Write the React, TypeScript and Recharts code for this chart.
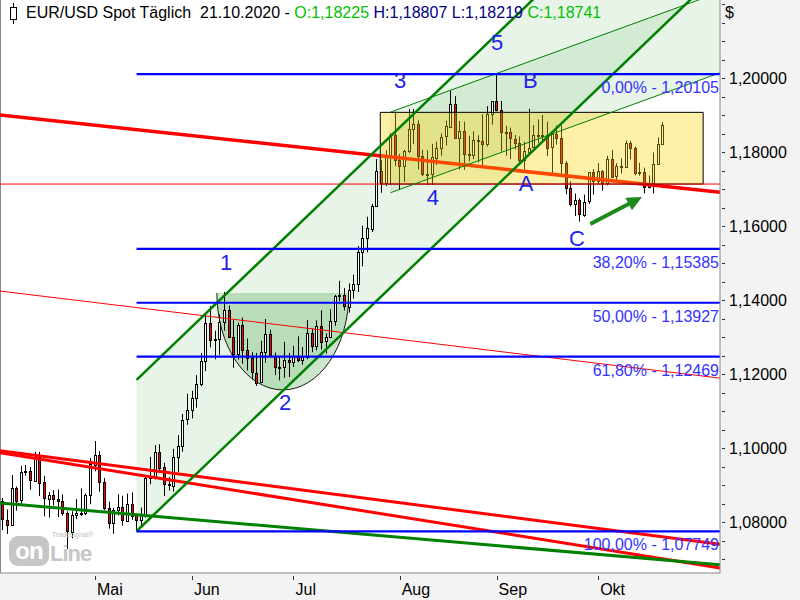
import React from 'react'
import { ComposedChart, Bar, XAxis, YAxis, ReferenceArea, ReferenceLine, ReferenceDot } from 'recharts'

type Ohlc = [number, number, number, number]
type Pt = [number, number]

const FONT = '"Liberation Sans", Arial, sans-serif'

// EUR/USD daily bars [open, high, low, close], 3 Apr - 21 Oct 2020
const aprilBars: Ohlc[] = [
  [1.0856, 1.0865, 1.0778, 1.0806], [1.0806, 1.0834, 1.0768, 1.0793], [1.0793, 1.0927, 1.0792, 1.0893],
  [1.0893, 1.0896, 1.0831, 1.0859], [1.0859, 1.0952, 1.0844, 1.0935], [1.0935, 1.0954, 1.0925, 1.0937],
  [1.0937, 1.0949, 1.0887, 1.0913], [1.0913, 1.099, 1.091, 1.0977], [1.0977, 1.099, 1.087, 1.0907],
  [1.0907, 1.0925, 1.0815, 1.0864], [1.0864, 1.0881, 1.0812, 1.0874], [1.0874, 1.0886, 1.0845, 1.0862],
  [1.0862, 1.0888, 1.0813, 1.0856], [1.0856, 1.0875, 1.0817, 1.0824], [1.0824, 1.0829, 1.0727, 1.0774],
  [1.0774, 1.0829, 1.0756, 1.0819], [1.0819, 1.0862, 1.0808, 1.0824], [1.0824, 1.0891, 1.0816, 1.0823],
  [1.0823, 1.0877, 1.0818, 1.0873], [1.0873, 1.0973, 1.0848, 1.0956],
]
const mayBars: Ohlc[] = [
  [1.0956, 1.1019, 1.0937, 1.0982], [1.0982, 1.0991, 1.0882, 1.0908], [1.0908, 1.0919, 1.0832, 1.0838],
  [1.0838, 1.0855, 1.0782, 1.0798], [1.0798, 1.0838, 1.0768, 1.0832], [1.0832, 1.0875, 1.0818, 1.0841],
  [1.0841, 1.0871, 1.079, 1.0805], [1.0805, 1.0877, 1.0802, 1.085], [1.085, 1.088, 1.0806, 1.0818],
  [1.0818, 1.0819, 1.0775, 1.0805], [1.0805, 1.0839, 1.0785, 1.0819], [1.0819, 1.0926, 1.0812, 1.0918],
  [1.0918, 1.0976, 1.0902, 1.0921], [1.0921, 1.1008, 1.0915, 1.099], [1.099, 1.101, 1.094, 1.0948],
  [1.0948, 1.096, 1.087, 1.0903], [1.0903, 1.0922, 1.0885, 1.0899], [1.0899, 1.0998, 1.0882, 1.0977],
  [1.0977, 1.1035, 1.0935, 1.1006], [1.1006, 1.1092, 1.099, 1.1077], [1.1077, 1.1147, 1.1063, 1.1102],
]
const juneBars: Ohlc[] = [
  [1.1102, 1.1155, 1.108, 1.1135], [1.1135, 1.1197, 1.1109, 1.1172], [1.1172, 1.1257, 1.1167, 1.1235],
  [1.1235, 1.1362, 1.1208, 1.1337], [1.1337, 1.1384, 1.1272, 1.129], [1.129, 1.1317, 1.124, 1.1294],
  [1.1294, 1.1361, 1.1252, 1.1341], [1.1341, 1.1422, 1.1317, 1.1374], [1.1374, 1.1385, 1.1297, 1.13],
  [1.13, 1.1347, 1.1217, 1.1254], [1.1254, 1.1339, 1.1239, 1.1332], [1.1332, 1.1353, 1.1228, 1.1265],
  [1.1265, 1.1296, 1.121, 1.1243], [1.1243, 1.1259, 1.1185, 1.1204], [1.1204, 1.1257, 1.1168, 1.1178],
  [1.1178, 1.129, 1.1175, 1.1259], [1.1259, 1.1349, 1.1231, 1.1309], [1.1309, 1.132, 1.1247, 1.125],
  [1.125, 1.1258, 1.1197, 1.122], [1.122, 1.1249, 1.1183, 1.1219], [1.1219, 1.1287, 1.119, 1.1239],
  [1.1239, 1.1257, 1.1192, 1.1233],
]
const julyBars: Ohlc[] = [
  [1.1233, 1.1276, 1.1219, 1.125], [1.125, 1.1302, 1.1232, 1.1238], [1.1238, 1.1273, 1.1225, 1.1246],
  [1.1246, 1.1346, 1.124, 1.131], [1.131, 1.1322, 1.1259, 1.1275], [1.1275, 1.1345, 1.1264, 1.133],
  [1.133, 1.1372, 1.1266, 1.1288], [1.1288, 1.131, 1.1255, 1.13], [1.13, 1.1375, 1.1298, 1.1342],
  [1.1342, 1.1414, 1.133, 1.141], [1.141, 1.1452, 1.1397, 1.1414], [1.1414, 1.1432, 1.1372, 1.1383],
  [1.1383, 1.1445, 1.1366, 1.1428], [1.1428, 1.1469, 1.1404, 1.1443], [1.1443, 1.1546, 1.1422, 1.153],
  [1.153, 1.1601, 1.1491, 1.1567], [1.1567, 1.1625, 1.1529, 1.1594], [1.1594, 1.166, 1.1584, 1.1655],
  [1.1655, 1.1781, 1.1653, 1.175], [1.175, 1.1779, 1.169, 1.1718], [1.1718, 1.1805, 1.1708, 1.179],
  [1.179, 1.1851, 1.1711, 1.1845], [1.1845, 1.1909, 1.1762, 1.1778],
]
const augustBars: Ohlc[] = [
  [1.1778, 1.1795, 1.1697, 1.1761], [1.1761, 1.1806, 1.1719, 1.1802], [1.1802, 1.1916, 1.1797, 1.1862],
  [1.1862, 1.1916, 1.1822, 1.1875], [1.1875, 1.1886, 1.1753, 1.1788], [1.1788, 1.1806, 1.1735, 1.1738],
  [1.1738, 1.1805, 1.1711, 1.174], [1.174, 1.1822, 1.1711, 1.1786], [1.1786, 1.1828, 1.1765, 1.1812],
  [1.1812, 1.185, 1.179, 1.1842], [1.1842, 1.1885, 1.1818, 1.187], [1.187, 1.1966, 1.1868, 1.1931],
  [1.1931, 1.1951, 1.1838, 1.1838], [1.1838, 1.1884, 1.1753, 1.1857], [1.1857, 1.1882, 1.1752, 1.1796],
  [1.1796, 1.1844, 1.1775, 1.1792], [1.1792, 1.1856, 1.1781, 1.1832], [1.1832, 1.1845, 1.1772, 1.1829],
  [1.1829, 1.1902, 1.1762, 1.1821], [1.1821, 1.1924, 1.1815, 1.1902], [1.1902, 1.1937, 1.1874, 1.1937],
]
const septemberBars: Ohlc[] = [
  [1.1937, 1.2011, 1.191, 1.1914], [1.1914, 1.1938, 1.1802, 1.1855], [1.1855, 1.1871, 1.179, 1.1853],
  [1.1853, 1.1866, 1.1781, 1.1836], [1.1836, 1.1846, 1.1807, 1.1825], [1.1825, 1.1842, 1.1765, 1.1778],
  [1.1778, 1.1828, 1.1753, 1.1802], [1.1802, 1.1917, 1.1799, 1.1812], [1.1812, 1.1873, 1.1812, 1.1845],
  [1.1845, 1.1888, 1.1824, 1.1847], [1.1847, 1.19, 1.1826, 1.1846], [1.1846, 1.1882, 1.1789, 1.1812],
  [1.1812, 1.1849, 1.1737, 1.1848], [1.1848, 1.1872, 1.182, 1.1837], [1.1837, 1.1872, 1.1732, 1.177],
  [1.177, 1.1776, 1.1686, 1.1702], [1.1702, 1.1721, 1.1653, 1.1658], [1.1658, 1.1688, 1.1627, 1.167],
  [1.167, 1.1675, 1.1612, 1.1632], [1.1632, 1.1685, 1.1625, 1.1666], [1.1666, 1.1746, 1.166, 1.1745],
  [1.1745, 1.1754, 1.1685, 1.1722],
]
const octoberBars: Ohlc[] = [
  [1.1722, 1.177, 1.1713, 1.1748], [1.1748, 1.1751, 1.1696, 1.1716], [1.1716, 1.179, 1.171, 1.1782],
  [1.1782, 1.1806, 1.1737, 1.1734], [1.1734, 1.177, 1.172, 1.1762], [1.1762, 1.1783, 1.1742, 1.176],
  [1.176, 1.1831, 1.176, 1.1825], [1.1825, 1.183, 1.178, 1.1812], [1.1812, 1.1815, 1.1737, 1.1745],
  [1.1745, 1.1771, 1.1736, 1.1746], [1.1746, 1.1758, 1.1688, 1.1706], [1.1706, 1.1737, 1.1702, 1.1717],
  [1.1717, 1.1799, 1.1688, 1.1768], [1.1768, 1.184, 1.1765, 1.1822], [1.18225, 1.18807, 1.18219, 1.18741],
]

// first trading day of each month (bar index)
const monthTicks = [20, 41, 63, 86, 107, 129]
const monthLabels = ['Mai', 'Jun', 'Jul', 'Aug', 'Sep', 'Okt']
const majorPriceTicks = [1.08, 1.1, 1.12, 1.14, 1.16, 1.18, 1.2]
const minorPriceTicks = Array.from({ length: 31 }, (_, k) => +(1.07 + k * 0.005).toFixed(3))

const X_DOMAIN: [number, number] = [-0.585, 155.4]
const Y_DOMAIN: [number, number] = [1.06622, 1.2211]

// Fibonacci retracement (low 14 May -> high 1 Sep)
const fibStart = 29
const fibPercents = ['0,00%', '38,20%', '50,00%', '61,80%', '100,00%']
const fibPrices = [1.20105, 1.15385, 1.13927, 1.12469, 1.07749]

// drawn trend lines, [bar index, price]
const redTrendMain: Pt[] = [[-0.6, 1.19], [155.4, 1.1691]]
const redTrendThin: Pt[] = [[-0.6, 1.14243], [155.4, 1.11889]]
const redLowA: Pt[] = [[-0.6, 1.09927], [155.4, 1.07397]]
const redLowB: Pt[] = [[-0.6, 1.09873], [155.4, 1.06759]]
const greenLow: Pt[] = [[-0.6, 1.08514], [155.4, 1.06843]]
const redLevel = 1.17135
const channelUpper: Pt[] = [[29, 1.1184], [155.4, 1.26975]]
const channelLower: Pt[] = [[29, 1.0775], [155.4, 1.22885]]
const wedgeUpper: Pt[] = [[84, 1.1908], [155.4, 1.22322]]
const wedgeLower: Pt[] = [[84, 1.169], [155.4, 1.20142]]
const rangeBox = { x1: 81.8, x2: 151.75, y1: 1.17135, y2: 1.19073 }
const cupBox = { x1: 46.4, x2: 75.0, y1: 1.1157, y2: 1.1419 }
const arrowFrom: Pt = [127.3, 1.16054]
const arrowTo: Pt = [138.5, 1.16784]

const waveLabels = ['1', '2', '3', '4', '5', 'A', 'B', 'C']
const waveX = [48.4, 61.2, 86.1, 93.2, 107.1, 113.4, 114.3, 124.4]
const waveY = [1.15027, 1.11243, 1.19946, 1.16784, 1.20973, 1.17162, 1.19946, 1.15676]

const candles = [...aprilBars, ...mayBars, ...juneBars, ...julyBars, ...augustBars, ...septemberBars, ...octoberBars].map(
  ([o, h, l, c], i) => ({ i, o, h, l, c }),
)

const fmt = (v: number) => v.toFixed(5).replace('.', ',')

function Candle(props: any) {
  const { x, y, width, height, payload } = props
  if (!payload || x == null) return null
  const { o, h, l, c } = payload
  const top = Math.min(y, y + height)
  const bottom = Math.max(y, y + height)
  const toY = (p: number) => top + ((h - p) / (h - l || 1)) * (bottom - top)
  const cx = Math.round(x + width / 2) + 0.5
  const yo = toY(o)
  const yc = toY(c)
  const bodyTop = Math.round(Math.min(yo, yc)) + 0.5
  const bodyH = Math.max(1, Math.round(Math.abs(yc - yo)))
  return (
    <g>
      <line x1={cx} x2={cx} y1={top} y2={bottom} stroke="#000" strokeWidth={1} />
      <rect x={cx - 1} y={bodyTop} width={2} height={bodyH} fill={c >= o ? '#fff' : '#ff0000'} stroke="#000" strokeWidth={1} />
    </g>
  )
}

function MonthTick(props: any) {
  const { x, y, payload } = props
  const k = monthTicks.indexOf(payload.value)
  const xx = Math.round(x) + 0.5
  return (
    <g>
      <line x1={xx} x2={xx} y1={y + 3} y2={y + 7} stroke="#333" />
      <text x={x + 2} y={y + 22} fontSize={16} fontFamily={FONT} fill="#000">
        {monthLabels[k]}
      </text>
    </g>
  )
}

function PriceTick(props: any) {
  const { x, y, payload } = props
  const v = payload.value
  const major = majorPriceTicks.some((t) => Math.abs(t - v) < 1e-6)
  const yy = Math.round(y) + 0.5
  return (
    <g>
      <line x1={x + 2} x2={x + 5} y1={yy} y2={yy} stroke="#333" />
      {major && (
        <text x={x + 9} y={y + 5.5} fontSize={16} fontFamily={FONT} fill="#000">
          {fmt(v)}
        </text>
      )}
    </g>
  )
}

type Box = { x1: number; x2: number; y1: number; y2: number }

function boxOf(points: Pt[]): Box {
  const xs = points.map((p) => p[0])
  const ys = points.map((p) => p[1])
  return { x1: Math.min(...xs), x2: Math.max(...xs), y1: Math.min(...ys), y2: Math.max(...ys) }
}

// maps data points into the pixel rect that ReferenceArea got from the axis scales
function mapper(box: Box, props: any) {
  const { x, y, width, height } = props
  return {
    px: (i: number) => x + ((i - box.x1) / (box.x2 - box.x1)) * width,
    py: (p: number) => y + ((box.y2 - p) / (box.y2 - box.y1)) * height,
  }
}

function polygonShape(points: Pt[], fill: string) {
  const box = boxOf(points)
  return (props: any) => {
    const { px, py } = mapper(box, props)
    const d = points.map((p) => `${px(p[0])},${py(p[1])}`).join(' ')
    return <polygon points={d} fill={fill} stroke="none" clipPath={props.clipPath} />
  }
}

function cupShape(props: any) {
  const { x, y, width, height } = props
  const rx = width / 2
  const arc = `M${x},${y} A${rx},${height} 0 0 0 ${x + width},${y}`
  return (
    <g clipPath={props.clipPath}>
      <path d={`${arc} Z`} fill="rgba(0,128,0,0.2)" stroke="none" />
      <path d={arc} fill="none" stroke="#1a1a1a" strokeWidth={1} />
    </g>
  )
}

function arrowShape(props: any) {
  const { x, y, width, height } = props
  const x0 = x
  const y0 = y + height
  const x1 = x + width
  const y1 = y
  const len = Math.hypot(x1 - x0, y1 - y0)
  const ux = (x1 - x0) / len
  const uy = (y1 - y0) / len
  const hl = 15
  const hw = 7
  const bx = x1 - ux * hl
  const by = y1 - uy * hl
  const head = `${x1},${y1} ${bx - uy * hw},${by + ux * hw} ${bx + uy * hw},${by - ux * hw}`
  return (
    <g>
      <line x1={x0} y1={y0} x2={bx + ux * 2} y2={by + uy * 2} stroke="#1e8a1e" strokeWidth={4} />
      <polygon points={head} fill="#1e8a1e" />
    </g>
  )
}

function textShape(text: string, size: number, color: string, anchor: string, dx: number, dy: number) {
  return (props: any) => (
    <text x={props.cx + dx} y={props.cy + dy} fontSize={size} fontFamily={FONT} fill={color} textAnchor={anchor}>
      {text}
    </text>
  )
}

const seg = (pts: Pt[]) => pts.map(([x, y]) => ({ x, y }))

export default function App() {
  const mainChannel: Pt[] = [channelUpper[0], channelUpper[1], channelLower[1], channelLower[0]]
  const wedge: Pt[] = [wedgeUpper[0], wedgeUpper[1], wedgeLower[1], wedgeLower[0]]
  const lines: { pts: Pt[]; color: string; w: number }[] = [
    { pts: redTrendMain, color: '#ff0000', w: 3.5 },
    { pts: redTrendThin, color: '#ff0000', w: 1 },
    { pts: redLowA, color: '#ff0000', w: 3 },
    { pts: redLowB, color: '#ff0000', w: 3 },
    { pts: greenLow, color: '#008000', w: 3 },
  ]
  const greenLines: { pts: Pt[]; w: number }[] = [
    { pts: channelUpper, w: 2.5 },
    { pts: channelLower, w: 2.5 },
    { pts: wedgeUpper, w: 1 },
    { pts: wedgeLower, w: 1 },
  ]
  return (
    <div style={{ position: 'absolute', left: 0, top: 0, width: 800, height: 600, background: '#f3f3f3', fontFamily: FONT }}>
      <style>{'body{margin:0}'}</style>
      <ComposedChart width={800} height={600} data={candles} margin={{ top: 0, right: 0, bottom: 0, left: 0 }}>
        <XAxis
          dataKey="i"
          type="number"
          domain={X_DOMAIN}
          allowDataOverflow
          ticks={monthTicks}
          interval={0}
          height={27}
          tickSize={0}
          tickMargin={0}
          tickLine={false}
          axisLine={{ stroke: '#888' }}
          tick={(p: any) => <MonthTick {...p} />}
        />
        <YAxis
          orientation="right"
          type="number"
          domain={Y_DOMAIN}
          allowDataOverflow
          ticks={minorPriceTicks}
          interval={0}
          width={80}
          tickSize={0}
          tickMargin={0}
          tickLine={false}
          axisLine={{ stroke: '#888' }}
          tick={(p: any) => <PriceTick {...p} />}
        />
        <ReferenceArea x1={X_DOMAIN[0]} x2={X_DOMAIN[1]} y1={Y_DOMAIN[0]} y2={Y_DOMAIN[1]} fill="#fff" fillOpacity={1} stroke="none" ifOverflow="visible" zIndex={-200} />
        <ReferenceLine x={X_DOMAIN[0]} stroke="#888" strokeWidth={2} ifOverflow="visible" zIndex={-150} />
        <ReferenceArea {...boxOf(mainChannel)} ifOverflow="hidden" shape={polygonShape(mainChannel, 'rgba(0,128,0,0.09)')} zIndex={50} />
        <ReferenceArea {...boxOf(wedge)} ifOverflow="hidden" shape={polygonShape(wedge, 'rgba(0,128,0,0.09)')} zIndex={51} />
        <ReferenceArea {...cupBox} ifOverflow="hidden" shape={cupShape} zIndex={52} />
        <Bar dataKey={(d: any) => [d.l, d.h]} barSize={4} isAnimationActive={false} shape={(p: any) => <Candle {...p} />} zIndex={300} />
        {lines.map((ln, k) => (
          <ReferenceLine key={`r${k}`} segment={seg(ln.pts)} stroke={ln.color} strokeWidth={ln.w} ifOverflow="hidden" zIndex={320} />
        ))}
        <ReferenceArea {...rangeBox} fill="#ffd300" fillOpacity={0.34} stroke="#000" strokeWidth={1} strokeOpacity={1} ifOverflow="hidden" zIndex={340} />
        <ReferenceLine y={redLevel} stroke="#ff0000" strokeWidth={1} ifOverflow="hidden" zIndex={345} />
        {greenLines.map((ln, k) => (
          <ReferenceLine key={`g${k}`} segment={seg(ln.pts)} stroke="#008000" strokeWidth={ln.w} ifOverflow="hidden" zIndex={360} />
        ))}
        {fibPrices.map((p, k) => (
          <ReferenceLine key={`f${k}`} segment={[{ x: fibStart, y: p }, { x: X_DOMAIN[1], y: p }]} stroke="#0000ff" strokeWidth={2.2} ifOverflow="hidden" zIndex={370} />
        ))}
        <ReferenceArea x1={arrowFrom[0]} x2={arrowTo[0]} y1={arrowFrom[1]} y2={arrowTo[1]} ifOverflow="visible" shape={arrowShape} zIndex={380} />
        {fibPrices.map((p, k) => (
          <ReferenceDot
            key={`fl${k}`}
            x={X_DOMAIN[1]}
            y={p}
            ifOverflow="visible"
            shape={textShape(`${fibPercents[k]} - ${fmt(p)}`, 16, '#3333ff', 'end', -1, 19)}
            zIndex={2000}
          />
        ))}
        {waveLabels.map((t, k) => (
          <ReferenceDot key={`w${k}`} x={waveX[k]} y={waveY[k]} ifOverflow="visible" shape={textShape(t, 22, '#2222ee', 'middle', 0, 8)} zIndex={2000} />
        ))}
      </ComposedChart>
      <svg width={800} height={30} style={{ position: 'absolute', left: 0, top: 0, pointerEvents: 'none' }}>
        <line x1={13.5} x2={13.5} y1={3} y2={24} stroke="#000" />
        <rect x={10.5} y={7.5} width={6} height={12} fill="#fff" stroke="#000" />
        <text x={26} y={18} fontSize={16} fontFamily={FONT} xmlSpace="preserve" style={{ whiteSpace: 'pre' }}>
          <tspan fill="#000">EUR/USD Spot Täglich  21.10.2020 - </tspan>
          <tspan fill="#00c000">O:1,18225</tspan>
          <tspan fill="#000080"> H:1,18807</tspan>
          <tspan fill="#000080"> L:1,18219</tspan>
          <tspan fill="#00c000"> C:1,18741</tspan>
        </text>
        <text x={725} y={18} fontSize={16} fontFamily={FONT} fill="#000">$</text>
      </svg>
      <div style={{ position: 'absolute', left: 9, top: 536, width: 40, height: 30, borderRadius: 9, background: '#c6c6c6', color: '#fff', fontWeight: 'bold', fontSize: 24, lineHeight: '30px', textAlign: 'center', letterSpacing: -1 }}>
        on
      </div>
      <div style={{ position: 'absolute', left: 52, top: 531, fontSize: 7, lineHeight: '8px', color: '#bdbdbd' }}>Tradesignal®</div>
      <div style={{ position: 'absolute', left: 50, top: 542, fontSize: 22, fontWeight: 'bold', color: '#c6c6c6', lineHeight: '24px', letterSpacing: -1 }}>
        Line
      </div>
    </div>
  )
}
